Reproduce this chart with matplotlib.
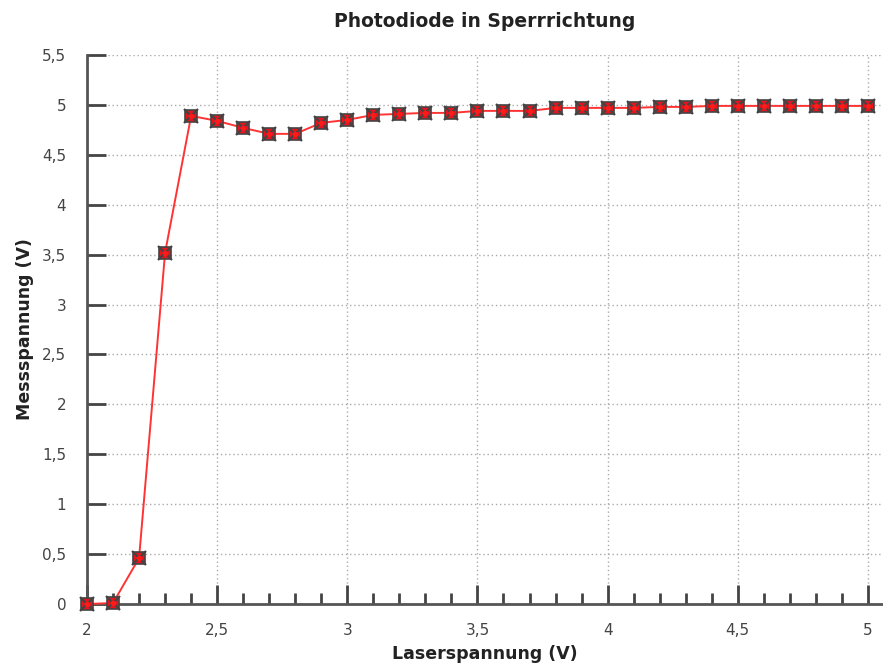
import matplotlib.pyplot as plt
from matplotlib.ticker import FuncFormatter, MultipleLocator

# Laserspannung (V) vs. Messspannung (V)
laser_v = [2.0, 2.1, 2.2, 2.3, 2.4, 2.5, 2.6, 2.7, 2.8, 2.9, 3.0,
           3.1, 3.2, 3.3, 3.4, 3.5, 3.6, 3.7, 3.8, 3.9, 4.0,
           4.1, 4.2, 4.3, 4.4, 4.5, 4.6, 4.7, 4.8, 4.9, 5.0]
mess_v = [0.0, 0.01, 0.46, 3.52, 4.89, 4.84, 4.77, 4.71, 4.71, 4.82, 4.85,
          4.90, 4.91, 4.92, 4.92, 4.94, 4.94, 4.94, 4.97, 4.97, 4.97,
          4.97, 4.98, 4.98, 4.99, 4.99, 4.99, 4.99, 4.99, 4.99, 4.99]

def komma(v, pos):
    return f'{v:g}'.replace('.', ',')

fig = plt.figure(figsize=(8.83, 6.67), dpi=100)
ax = fig.add_axes([87/883, 1-604/667, 1-87/883, (604-55)/667])

ax.plot(laser_v, mess_v, color='#ff3333', lw=1.4, zorder=3, clip_on=False)
ax.plot(laser_v, mess_v, ls='none', marker='s', ms=8.5, mfc='#e8141c',
        mec='#444444', mew=1.2, zorder=4, clip_on=False)
ax.plot(laser_v, mess_v, ls='none', marker='x', ms=9.5, mec='#444444',
        mew=1.6, zorder=5, clip_on=False)
ax.plot(laser_v, mess_v, ls='none', marker='o', ms=4, mfc='#ff1a1a',
        mec='none', zorder=6, clip_on=False)

ax.set_xlim(2, 5.058)
ax.set_ylim(0, 5.5)
ax.xaxis.set_major_locator(MultipleLocator(0.5))
ax.xaxis.set_minor_locator(MultipleLocator(0.1))
ax.yaxis.set_major_locator(MultipleLocator(0.5))
ax.xaxis.set_major_formatter(FuncFormatter(komma))
ax.yaxis.set_major_formatter(FuncFormatter(komma))

for sp in ['top', 'right']:
    ax.spines[sp].set_visible(False)
for sp in ['left', 'bottom']:
    ax.spines[sp].set_color('#555555')
    ax.spines[sp].set_linewidth(2)

ax.tick_params(axis='both', which='major', direction='in', color='#444444',
               width=2, labelsize=11, labelcolor='#444444')
ax.tick_params(axis='y', which='major', length=13.5, pad=15)
ax.tick_params(axis='x', which='major', length=14, pad=14)
ax.tick_params(axis='x', which='minor', direction='in', length=8, width=2,
               color='#444444')

ax.grid(True, which='major', ls=(0, (1, 2)), color='#aaaaaa', lw=1)
ax.set_axisbelow(True)

ax.set_title('Photodiode in Sperrrichtung', fontsize=13.5, fontweight='bold',
             color='#222222', pad=20)
ax.set_xlabel('Laserspannung (V)', fontsize=12.5, fontweight='bold',
              color='#222222', labelpad=5)
ax.set_ylabel('Messspannung (V)', fontsize=12.5, fontweight='bold',
              color='#222222', labelpad=6)

fig.savefig('out.png', dpi=100, facecolor='white')
